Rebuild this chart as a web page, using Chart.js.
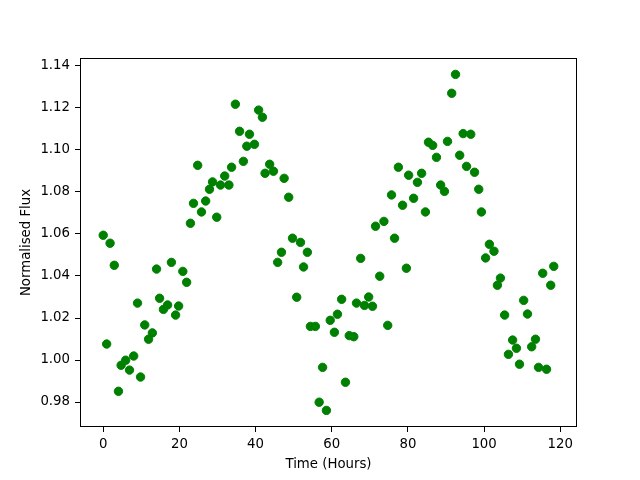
<!DOCTYPE html>
<html lang="en">
<head>
  <meta charset="UTF-8">
  <style>
    body { margin: 0; background-color: #fff; }
    #wrap { width: 640px; height: 480px; }
  </style>
</head>
<body>
  <div id="wrap">
    <canvas id="myChart" width="640" height="480"></canvas>
  </div>

  <script src="https://cdn.jsdelivr.net/npm/chart.js"></script>
  <script>
    // Time (hours) for each observation
    const timeHours = [
      0.0, 0.9, 1.8, 2.9, 4.0, 4.7, 5.9, 6.9, 8.0, 9.0,
      9.8, 10.9, 11.9, 12.9, 14.0, 14.8, 15.8, 16.9, 17.9, 19.0,
      19.8, 20.9, 21.9, 22.9, 23.7, 24.8, 25.8, 26.9, 27.9, 28.7,
      29.8, 30.8, 31.9, 33.0, 33.7, 34.7, 35.8, 36.8, 37.7, 38.4,
      39.7, 40.8, 41.8, 42.5, 43.7, 44.7, 45.8, 46.8, 47.5, 48.7,
      49.7, 50.8, 51.8, 52.6, 53.6, 54.4, 55.7, 56.7, 57.6, 58.6,
      59.6, 60.7, 61.5, 62.6, 63.6, 64.6, 65.8, 66.5, 67.6, 68.6,
      69.7, 70.7, 71.5, 72.6, 73.7, 74.7, 75.7, 76.5, 77.5, 78.6,
      79.6, 80.2, 81.5, 82.5, 83.6, 84.6, 85.4, 86.5, 87.5, 88.6,
      89.6, 90.4, 91.5, 92.5, 93.6, 94.5, 95.4, 96.5, 97.5, 98.6,
      99.3, 100.4, 101.4, 102.6, 103.5, 104.3, 105.4, 106.4, 107.5, 108.5,
      109.3, 110.4, 111.4, 112.5, 113.5, 114.3, 115.4, 116.4, 117.5, 118.3
    ];

    // Normalised flux values
    const flux = [
      1.0594, 1.0076, 1.0556, 1.0451, 0.9851, 0.9975, 0.9999, 0.9952, 1.0019, 1.0271,
      0.9919, 1.0167, 1.0099, 1.0129, 1.0433, 1.0294, 1.0241, 1.0262, 1.0465, 1.0214,
      1.0257, 1.0422, 1.0370, 1.0651, 1.0746, 1.0927, 1.0705, 1.0757, 1.0813, 1.0848,
      1.0680, 1.0833, 1.0876, 1.0833, 1.0918, 1.1218, 1.1089, 1.0946, 1.1018, 1.1075,
      1.1027, 1.1190, 1.1156, 1.0889, 1.0932, 1.0899, 1.0465, 1.0513, 1.0865, 1.0775,
      1.0580, 1.0299, 1.0560, 1.0443, 1.0513, 1.0160, 1.0160, 0.9799, 0.9965, 0.9760,
      1.0189, 1.0132, 1.0218, 1.0289, 0.9894, 1.0116, 1.0111, 1.0271, 1.0484, 1.0260,
      1.0300, 1.0256, 1.0637, 1.0399, 1.0660, 1.0165, 1.0786, 1.0580, 1.0918, 1.0737,
      1.0437, 1.0880, 1.0770, 1.0846, 1.0889, 1.0705, 1.1037, 1.1022, 1.0965, 1.0833,
      1.0803, 1.1041, 1.1270, 1.1360, 1.0975, 1.1078, 1.0922, 1.1075, 1.0894, 1.0813,
      1.0705, 1.0486, 1.0551, 1.0518, 1.0356, 1.0390, 1.0214, 1.0027, 1.0095, 1.0056,
      0.9980, 1.0284, 1.0219, 1.0063, 1.0099, 0.9965, 1.0413, 0.9956, 1.0356, 1.0446
    ];

    const xTicks = [0, 20, 40, 60, 80, 100, 120];
    const yTicks = [0.98, 1.00, 1.02, 1.04, 1.06, 1.08, 1.10, 1.12, 1.14];

    const points = timeHours.map((t, i) => ({ x: t, y: flux[i] }));

    // draws the full box round the plot area, like matplotlib
    const frame = {
      id: 'frame',
      afterDraw(chart) {
        const a = chart.chartArea;
        const c = chart.ctx;
        c.save();
        c.strokeStyle = '#000';
        c.lineWidth = 1;
        c.strokeRect(a.left + 0.5, a.top + 0.5, a.right - a.left - 1, a.bottom - a.top - 1);
        c.restore();
      }
    };

    const tickFont = { family: "'DejaVu Sans', sans-serif", size: 13.3 };

    const ctx = document.getElementById('myChart').getContext('2d');
    new Chart(ctx, {
      type: 'scatter',
      data: {
        datasets: [{
          label: 'Flux',
          data: points,
          backgroundColor: '#008000',
          borderColor: '#008000',
          borderWidth: 1,
          pointRadius: 4.2,
          pointHoverRadius: 4.2
        }]
      },
      options: {
        responsive: false,
        animation: false,
        layout: {
          padding: { left: 0, right: 63, top: 58, bottom: 0 }
        },
        plugins: {
          legend: { display: false },
          tooltip: { enabled: false }
        },
        scales: {
          x: {
            type: 'linear',
            min: -6.1,
            max: 124.4,
            afterBuildTicks: (scale) => { scale.ticks = xTicks.map(v => ({ value: v })); },
            afterFit: (scale) => { scale.height = 53; },
            grid: { drawOnChartArea: false, tickLength: 5, color: '#000' },
            border: { display: false },
            ticks: { color: '#000', font: tickFont, padding: 5, maxRotation: 0 },
            title: {
              display: true,
              text: 'Time (Hours)',
              color: '#000',
              font: tickFont,
              padding: { top: 0, bottom: 7 }
            }
          },
          y: {
            type: 'linear',
            min: 0.9681,
            max: 1.1438,
            afterBuildTicks: (scale) => { scale.ticks = yTicks.map(v => ({ value: v })); },
            afterFit: (scale) => { scale.width = 80; },
            grid: { drawOnChartArea: false, tickLength: 5, color: '#000' },
            border: { display: false },
            ticks: {
              color: '#000',
              font: tickFont,
              padding: 5,
              callback: (v) => Number(v).toFixed(2)
            },
            title: {
              display: true,
              text: 'Normalised Flux',
              color: '#000',
              font: tickFont,
              padding: { top: 19, bottom: 0 }
            }
          }
        }
      },
      plugins: [frame]
    });
  </script>
</body>
</html>
